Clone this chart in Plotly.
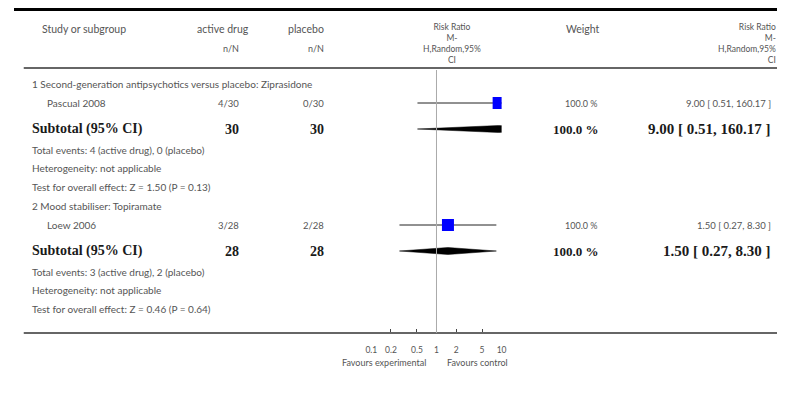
import plotly.graph_objects as go

# ---------------- data ----------------
subgroups = ["1 Second-generation antipsychotics versus placebo: Ziprasidone",
             "2 Mood stabiliser: Topiramate"]
studies = ["Pascual 2008", "Loew 2006"]
active_events = [4, 3]
active_total = [30, 28]
placebo_events = [0, 2]
placebo_total = [30, 28]
rr = [9.00, 1.50]
rr_lo = [0.51, 0.27]
rr_hi = [160.17, 8.30]
weights = [100.0, 100.0]
sub_rr = [9.00, 1.50]
sub_lo = [0.51, 0.27]
sub_hi = [160.17, 8.30]
sub_weight = [100.0, 100.0]
heterogeneity = ["not applicable", "not applicable"]
z_values = [1.50, 0.46]
p_values = [0.13, 0.64]
tick_vals = [0.1, 0.2, 0.5, 1, 2, 5, 10]
tick_labels = ["0.1", "0.2", "0.5", "1", "2", "5", "10"]

# ---------------- layout constants ----------------
OFF = 8                       # page body margin
W, H = 790 - 2 * OFF, 408 - 2 * OFF
SX, AX = 0.984, 7.4           # observed horizontal mapping correction
SANS = "Lato, 'Open Sans', sans-serif"
SERIF = "'Liberation Serif', 'DejaVu Serif', serif"
GREY = "#555555"
DARK = "#1a1a1a"
BLUE = "#0000ff"


def PX(px):  # desired picture x -> paper fraction
    t = (px - AX) / SX
    return min(max((t - OFF) / W, 0.0), 1.0)


def PY(py):  # desired picture y -> y-axis value
    return py - OFF


group_y0 = [84, 206]
offsets = dict(study=19, subtotal=45, events=66, het=84, test=103)

fig = go.Figure()
annotations = []
shapes = []


def txt(x, y, text, anchor="left", size=10, font=SANS, color=GREY, bold=False, align=None):
    if bold:
        text = "<b>" + text + "</b>"
    annotations.append(dict(x=PX(x), y=PY(y), xref="paper", yref="y", text=text,
                            showarrow=False, xanchor=anchor, yanchor="middle",
                            align=align or anchor,
                            font=dict(family=font, size=size, color=color),
                            borderpad=0, borderwidth=0))


# header
txt(43, 29, "Study or subgroup", size=10.5)
txt(250, 29, "active drug", "right", size=10.5)
txt(325, 29, "placebo", "right", size=10.5)
txt(240, 48, "n/N", "right", size=9)
txt(325, 48, "n/N", "right", size=9)
rr_header = "Risk Ratio<br>M-<br>H,Random,95%<br>CI"
txt(452, 43, rr_header, "center", size=8.5, align="center")
txt(600, 29, "Weight", "right", size=10.5)
txt(776, 43, rr_header, "right", size=8.5, align="right")

# rows
box_x, box_y = [], []
for g in range(len(studies)):
    y0 = group_y0[g]
    ys = y0 + offsets["study"]
    ysub = y0 + offsets["subtotal"]
    txt(33, y0, subgroups[g], size=10)
    txt(48, ys, studies[g], size=10)
    txt(240, ys, f"{active_events[g]}/{active_total[g]}", "right", size=9.5)
    txt(325, ys, f"{placebo_events[g]}/{placebo_total[g]}", "right", size=9.5)
    txt(598, ys, f"{weights[g]:.1f} %", "right", size=9)
    txt(771, ys, f"{rr[g]:.2f} [ {rr_lo[g]:.2f}, {rr_hi[g]:.2f} ]", "right", size=9.5)

    txt(33, ysub, "Subtotal (95% CI)", size=14, font=SERIF, color=DARK, bold=True)
    txt(240, ysub, f"{active_total[g]}", "right", size=14, font=SERIF, color=DARK, bold=True)
    txt(325, ysub, f"{placebo_total[g]}", "right", size=14, font=SERIF, color=DARK, bold=True)
    txt(599, ysub, f"{sub_weight[g]:.1f} %", "right", size=13, font=SERIF, color=DARK, bold=True)
    txt(771, ysub, f"{sub_rr[g]:.2f} [ {sub_lo[g]:.2f}, {sub_hi[g]:.2f} ]", "right",
        size=15, font=SERIF, color=DARK, bold=True)

    txt(33, y0 + offsets["events"],
        f"Total events: {active_events[g]} (active drug), {placebo_events[g]} (placebo)", size=10)
    txt(33, y0 + offsets["het"], f"Heterogeneity: {heterogeneity[g]}", size=10)
    txt(33, y0 + offsets["test"],
        f"Test for overall effect: Z = {z_values[g]:.2f} (P = {p_values[g]:.2f})", size=10)

    # CI line
    fig.add_trace(go.Scatter(x=[rr_lo[g], rr_hi[g]], y=[PY(ys), PY(ys)], mode="lines",
                             line=dict(color="#222222", width=1), hoverinfo="skip",
                             showlegend=False))
    box_x.append(rr[g])
    box_y.append(PY(ys))
    # diamond
    h = 3.5
    fig.add_trace(go.Scatter(x=[sub_lo[g], sub_rr[g], sub_hi[g], sub_rr[g], sub_lo[g]],
                             y=[PY(ysub), PY(ysub) - h, PY(ysub), PY(ysub) + h, PY(ysub)],
                             mode="lines", fill="toself", fillcolor="#000000",
                             line=dict(color="#000000", width=0.5), hoverinfo="skip",
                             showlegend=False))

fig.add_trace(go.Scatter(x=box_x, y=box_y, mode="markers",
                         marker=dict(symbol="square", size=12, color=BLUE,
                                     line=dict(width=0)),
                         cliponaxis=True, hoverinfo="skip", showlegend=False))

# rules
shapes.append(dict(type="line", xref="paper", yref="y", x0=PX(10), x1=1.0,
                   y0=1.5, y1=1.5, line=dict(color="#000000", width=3)))
shapes.append(dict(type="line", xref="paper", yref="y", x0=PX(25), x1=PX(778),
                   y0=PY(68), y1=PY(68), line=dict(color="#666666", width=2)))
shapes.append(dict(type="line", xref="paper", yref="y", x0=PX(25), x1=PX(780),
                   y0=PY(333), y1=PY(333), line=dict(color="#666666", width=2)))
# line of no effect
shapes.append(dict(type="line", xref="x", yref="y", x0=1, x1=1, y0=PY(70), y1=PY(333),
                   line=dict(color="#aaaaaa", width=1)))

# favours labels
txt(427, 362, "Favours experimental", "right", size=9)
txt(447, 362, "Favours control", "left", size=9)

axis_y = 333
fig.update_layout(
    width=W, height=H, margin=dict(l=0, r=0, t=0, b=0),
    paper_bgcolor="white", plot_bgcolor="rgba(0,0,0,0)",
    annotations=annotations, shapes=shapes, showlegend=False,
    xaxis=dict(type="log", range=[-1, 1], domain=[PX(372), PX(502)],
               anchor="free", position=1 - PY(axis_y) / H,
               tickvals=tick_vals, ticktext=tick_labels,
               ticks="inside", ticklen=4, tickcolor="#444444", tickwidth=1,
               showline=False, showgrid=False, zeroline=False,
               tickfont=dict(family=SANS, size=8.5, color=GREY),
               ticklabelstandoff=10, fixedrange=True),
    yaxis=dict(range=[H, 0], domain=[0, 1], visible=False, showgrid=False,
               zeroline=False, fixedrange=True),
)

fig.write_html("out.html")
